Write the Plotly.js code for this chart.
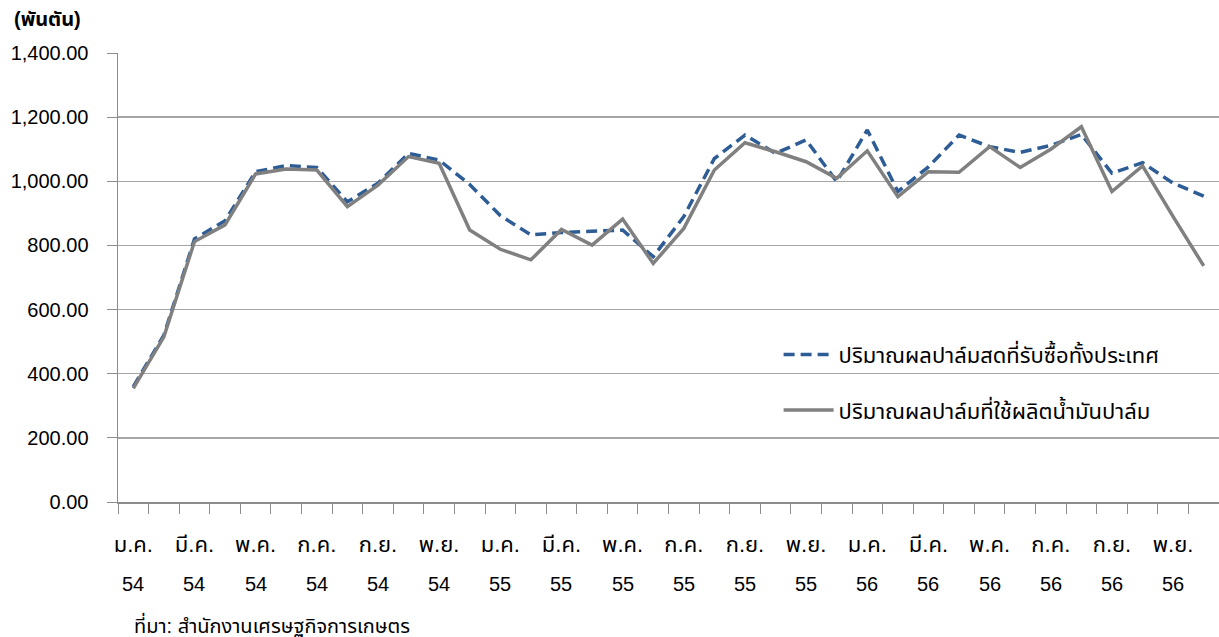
<!DOCTYPE html>
<html>
<head>
<meta charset="utf-8">
<script src="https://cdn.plot.ly/plotly-3.0.1.min.js"></script>
<style>
  html, body { margin: 0; padding: 0; background: #ffffff; }
  #chart { width: 1219px; height: 637px; }
</style>
</head>
<body>
<div id="chart"></div>
<script>
const monthNames = ["ม.ค.", "ก.พ.", "มี.ค.", "เม.ย.", "พ.ค.", "มิ.ย.", "ก.ค.", "ส.ค.", "ก.ย.", "ต.ค.", "พ.ย.", "ธ.ค."];
const years = ["54", "55", "56"];
const categories = [];
years.forEach(y => monthNames.forEach(m => categories.push(m + " " + y)));

const seriesPurchased = [360, 520, 820, 877, 1030, 1049, 1043, 936, 994, 1087, 1066, 990,
                         893, 833, 840, 843, 848, 765, 890, 1071, 1144, 1087, 1129, 999,
                         1160, 968, 1045, 1144, 1108, 1090, 1112, 1146, 1025, 1058, 994, 954];
const seriesUsed = [354, 515, 812, 864, 1023, 1038, 1035, 921, 988, 1077, 1056, 848,
                    788, 755, 850, 801, 882, 744, 853, 1035, 1120, 1092, 1061, 1009,
                    1095, 952, 1030, 1028, 1108, 1043, 1100, 1170, 968, 1048, 890, 736];
const namePurchased = "ปริมาณผลปาล์มสดที่รับซื้อทั้งประเทศ";
const nameUsed = "ปริมาณผลปาล์มที่ใช้ผลิตน้ำมันปาล์ม";
const unitLabel = "(พันตัน)";
const sourceLabel = "ที่มา: สำนักงานเศรษฐกิจการเกษตร";

const FONT = "'Liberation Sans', Arial, 'Noto Sans Thai', 'Noto Sans', sans-serif";

const tickText = categories.map((c, i) => i % 2 === 0 ? monthNames[i % 12] : "");
const yearAnn = [];
categories.forEach((c, i) => {
  if (i % 2 === 0) {
    yearAnn.push({
      x: c, xref: "x", y: -0.182, yref: "paper", yanchor: "middle",
      text: years[Math.floor(i / 12)], showarrow: false,
      font: {family: FONT, size: 20, color: "#000000"}
    });
  }
});

const traces = [
  {
    x: categories, y: seriesPurchased, name: namePurchased, type: "scatter", mode: "lines",
    line: {color: "#2e5d96", width: 3.5, dash: "11px,6px"}, legendgroup: "a"
  },
  {
    x: categories, y: seriesUsed, name: nameUsed, type: "scatter", mode: "lines",
    line: {color: "#808080", width: 3.5}, legendgroup: "b"
  }
];

const layout = {
  width: 1219, height: 637,
  margin: {l: 118, r: 0, t: 53, b: 135},
  paper_bgcolor: "#ffffff", plot_bgcolor: "#ffffff",
  font: {family: FONT, size: 20, color: "#000000"},
  showlegend: true,
  legend: {
    x: 0.6, y: 0.375, xanchor: "left", yanchor: "top",
    bgcolor: "rgba(0,0,0,0)", traceorder: "grouped", tracegroupgap: 24,
    itemwidth: 50, font: {family: FONT, size: 22, color: "#000000"}
  },
  xaxis: {
    type: "category", range: [-0.5, 35.5],
    tickmode: "array", tickvals: categories, ticktext: tickText,
    tickson: "boundaries", ticks: "outside", ticklen: 10, tickcolor: "#8c8c8c",
    ticklabelstandoff: 22,
    showline: true, linecolor: "#8c8c8c", linewidth: 1.5,
    showgrid: false, zeroline: false, tickangle: 0,
    tickfont: {family: FONT, size: 22, color: "#000000"}
  },
  yaxis: {
    range: [0, 1400], dtick: 200, tick0: 0,
    tickformat: ",.2f",
    ticks: "outside", ticklen: 10, tickcolor: "#8c8c8c",
    ticklabelstandoff: 14,
    showline: true, linecolor: "#8c8c8c", linewidth: 1.5,
    showgrid: true, gridcolor: "#a6a6a6", gridwidth: 1.3,
    zeroline: false,
    tickfont: {family: FONT, size: 20, color: "#000000"}
  },
  annotations: yearAnn.concat([
    {
      x: (12 - 118) / 1101, xref: "paper", xanchor: "left",
      y: (502 - 19) / 449, yref: "paper", yanchor: "middle",
      text: "<b>" + unitLabel + "</b>", showarrow: false,
      font: {family: FONT, size: 20, color: "#000000"}
    },
    {
      text: sourceLabel, showarrow: false, xref: "paper", yref: "paper",
      x: 0.013, xanchor: "left", y: -0.273, yanchor: "middle",
      font: {family: FONT, size: 20, color: "#000000"}
    }
  ])
};

Plotly.newPlot("chart", traces, layout, {displayModeBar: false, staticPlot: true});
</script>
</body>
</html>
